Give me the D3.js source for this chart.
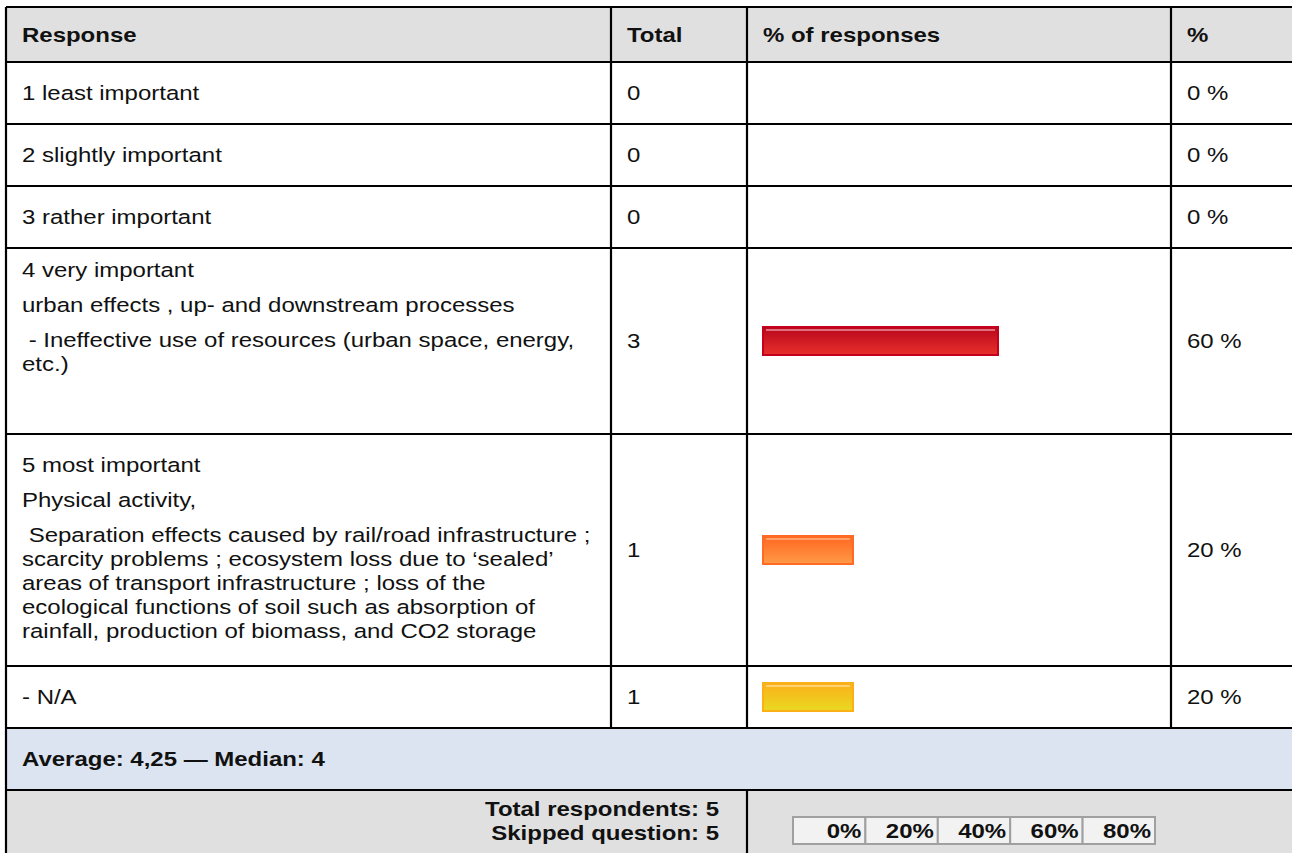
<!DOCTYPE html>
<html>
<head>
<meta charset="utf-8">
<script src="https://cdn.jsdelivr.net/npm/d3@7"></script>
<style>
  html, body { margin: 0; padding: 0; background: #fff; }
  svg { display: block; }
  text { font-family: "Liberation Sans", Arial, sans-serif; fill: #111; }
</style>
</head>
<body>
<div id="chart"></div>
<script>
// column titles
var headers = ["Response", "Total", "% of responses", "%"];

// each response: list of paragraphs, each paragraph a list of lines
var responses = [
  [["1 least important"]],
  [["2 slightly important"]],
  [["3 rather important"]],
  [["4 very important"],
   ["urban effects , up- and downstream processes"],
   ["\u00a0- Ineffective use of resources (urban space, energy,", "etc.)"]],
  [["5 most important"],
   ["Physical activity,"],
   ["\u00a0Separation effects caused by rail/road infrastructure ;",
    "scarcity problems ; ecosystem loss due to \u2018sealed\u2019",
    "areas of transport infrastructure ; loss of the",
    "ecological functions of soil such as absorption of",
    "rainfall, production of biomass, and CO2 storage"]],
  [["- N/A"]]
];
var totals = [0, 0, 0, 3, 1, 1];
var percents = [0, 0, 0, 60, 20, 20];
var barColors = ["red", "red", "red", "red", "orange", "yellow"];

var summaryText = "Average: 4,25 \u2014 Median: 4";
var respondentsText = ["Total respondents: 5", "Skipped question: 5"];
var scaleTicks = ["0%", "20%", "40%", "60%", "80%"];

// layout
var width = 1292, height = 853;
var colX = [6, 611, 747, 1171, 1300];
var headerTop = 7, headerH = 55;
var rowHeights = [62, 62, 62, 186, 232, 62];
var firstLineOffset = [31, 31, 31, 22, 31, 31];
var paraGap = 35, lineGap = 24;
var summaryH = 62, footerH = 64;
var fontSize = 20.5;
var sx = 1.17; // text in the picture is a bit wider than plain Arial

var gradients = {
  red: { top: "#b8061d", bottom: "#e8302a", stroke: "#c4001e", shine: "#e88a96" },
  orange: { top: "#ff6620", bottom: "#ff9a48", stroke: "#ff6a24", shine: "#ffb07a" },
  yellow: { top: "#fbb019", bottom: "#ead922", stroke: "#fcb018", shine: "#ffd98a" }
};

function place(sel, fx, fy) {
  sel.attr("transform", function (d, i) {
    return "translate(" + fx(d, i) + "," + fy(d, i) + ") scale(" + sx + ",1)";
  });
}

var svg = d3.select("#chart").append("svg")
  .attr("width", width).attr("height", height);

var defs = svg.append("defs");
Object.keys(gradients).forEach(function (k) {
  var g = defs.append("linearGradient").attr("id", "grad_" + k)
    .attr("x1", 0).attr("y1", 0).attr("x2", 0).attr("y2", 1);
  g.append("stop").attr("offset", "0%").attr("stop-color", gradients[k].top);
  g.append("stop").attr("offset", "100%").attr("stop-color", gradients[k].bottom);
});

// row tops
var rowTops = [];
var y = headerTop + headerH;
rowHeights.forEach(function (h) { rowTops.push(y); y += h; });
var summaryTop = y;
var footerTop = summaryTop + summaryH;

// backgrounds
svg.append("rect").attr("x", colX[0]).attr("y", headerTop)
  .attr("width", colX[4] - colX[0]).attr("height", headerH).attr("fill", "#e0e0e0");
svg.append("rect").attr("x", colX[0]).attr("y", summaryTop)
  .attr("width", colX[4] - colX[0]).attr("height", summaryH).attr("fill", "#dbe4f0");
svg.append("rect").attr("x", colX[0]).attr("y", footerTop)
  .attr("width", colX[4] - colX[0]).attr("height", footerH + 10).attr("fill", "#e0e0e0");

// header text
svg.append("g").selectAll("text")
  .data(headers)
  .enter().append("text")
  .call(place, function (d, i) { return colX[i] + 16; }, function () { return headerTop + headerH / 2; })
  .attr("dy", "0.35em")
  .attr("font-size", fontSize)
  .attr("font-weight", "bold")
  .text(function (d) { return d; });

// response rows
var rows = svg.append("g").selectAll("g")
  .data(responses)
  .enter().append("g")
  .attr("transform", function (d, i) { return "translate(0," + rowTops[i] + ")"; });

rows.each(function (paras, i) {
  var g = d3.select(this);
  var lines = [];
  var ly = firstLineOffset[i];
  paras.forEach(function (p, pi) {
    if (pi > 0) ly += paraGap - lineGap;
    p.forEach(function (line) {
      lines.push({ text: line, y: ly });
      ly += lineGap;
    });
  });
  g.selectAll("text.label")
    .data(lines)
    .enter().append("text")
    .attr("class", "label")
    .call(place, function () { return colX[0] + 16; }, function (d) { return d.y; })
    .attr("dy", "0.35em")
    .attr("font-size", fontSize)
    .text(function (d) { return d.text; });
});

var rowMid = function (i) { return rowTops[i] + rowHeights[i] / 2; };

svg.append("g").selectAll("text")
  .data(totals)
  .enter().append("text")
  .call(place, function () { return colX[1] + 16; }, function (d, i) { return rowMid(i); })
  .attr("dy", "0.35em")
  .attr("font-size", fontSize)
  .text(function (d) { return d; });

svg.append("g").selectAll("text")
  .data(percents)
  .enter().append("text")
  .call(place, function () { return colX[3] + 16; }, function (d, i) { return rowMid(i); })
  .attr("dy", "0.35em")
  .attr("font-size", fontSize)
  .text(function (d) { return d + " %"; });

// bars
var barX = d3.scaleLinear().domain([0, 100]).range([19.5, 382]);
var barH = 30, barLeft = 762;
var barData = percents.map(function (p, i) { return { value: p, color: barColors[i], i: i }; })
  .filter(function (d) { return d.value > 0; });

var bars = svg.append("g").selectAll("g")
  .data(barData)
  .enter().append("g")
  .attr("transform", function (d) {
    return "translate(" + barLeft + "," + (rowMid(d.i) - barH / 2) + ")";
  });

bars.append("rect")
  .attr("x", 1).attr("y", 1)
  .attr("width", function (d) { return barX(d.value) - 2; })
  .attr("height", barH - 2)
  .attr("fill", function (d) { return "url(#grad_" + d.color + ")"; })
  .attr("stroke", function (d) { return gradients[d.color].stroke; })
  .attr("stroke-width", 2);

bars.append("rect")
  .attr("x", 4).attr("y", 3)
  .attr("width", function (d) { return barX(d.value) - 8; })
  .attr("height", 2)
  .attr("fill", function (d) { return gradients[d.color].shine; })
  .attr("opacity", 0.8);

// summary row
svg.append("text")
  .call(place, function () { return colX[0] + 16; }, function () { return summaryTop + summaryH / 2; })
  .attr("dy", "0.35em")
  .attr("font-size", fontSize)
  .attr("font-weight", "bold")
  .text(summaryText);

// footer
svg.append("g").selectAll("text")
  .data(respondentsText)
  .enter().append("text")
  .call(place, function () { return 719; }, function (d, i) { return footerTop + 19 + i * 24; })
  .attr("dy", "0.35em")
  .attr("text-anchor", "end")
  .attr("font-size", fontSize)
  .attr("font-weight", "bold")
  .text(function (d) { return d; });

var tickBand = d3.scaleBand().domain(scaleTicks).range([793, 1155]);
var tickTop = footerTop + 27, tickH = 27;
var ticks = svg.append("g").selectAll("g")
  .data(scaleTicks)
  .enter().append("g")
  .attr("transform", function (d) { return "translate(" + tickBand(d) + "," + tickTop + ")"; });
ticks.append("rect")
  .attr("width", tickBand.bandwidth()).attr("height", tickH)
  .attr("fill", "#f2f2f2").attr("stroke", "#a0a0a0").attr("stroke-width", 2);
ticks.append("text")
  .call(place, function () { return tickBand.bandwidth() - 4; }, function () { return tickH / 2; })
  .attr("dy", "0.36em")
  .attr("text-anchor", "end")
  .attr("font-size", fontSize)
  .attr("font-weight", "bold")
  .text(function (d) { return d; });

// grid lines
var grid = svg.append("g").attr("stroke", "#000").attr("stroke-width", 2.2);
var hLines = [headerTop, headerTop + headerH].concat(rowTops.slice(1), [summaryTop, footerTop]);
grid.selectAll("line.h")
  .data(hLines)
  .enter().append("line")
  .attr("x1", colX[0]).attr("x2", colX[4])
  .attr("y1", function (d) { return d; }).attr("y2", function (d) { return d; });
grid.selectAll("line.v")
  .data(colX.slice(1, 4))
  .enter().append("line")
  .attr("x1", function (d) { return d; }).attr("x2", function (d) { return d; })
  .attr("y1", headerTop).attr("y2", summaryTop);
grid.append("line")
  .attr("x1", colX[0]).attr("x2", colX[0])
  .attr("y1", headerTop).attr("y2", height + 5);
grid.append("line")
  .attr("x1", colX[2]).attr("x2", colX[2])
  .attr("y1", footerTop).attr("y2", height + 5);
</script>
</body>
</html>
